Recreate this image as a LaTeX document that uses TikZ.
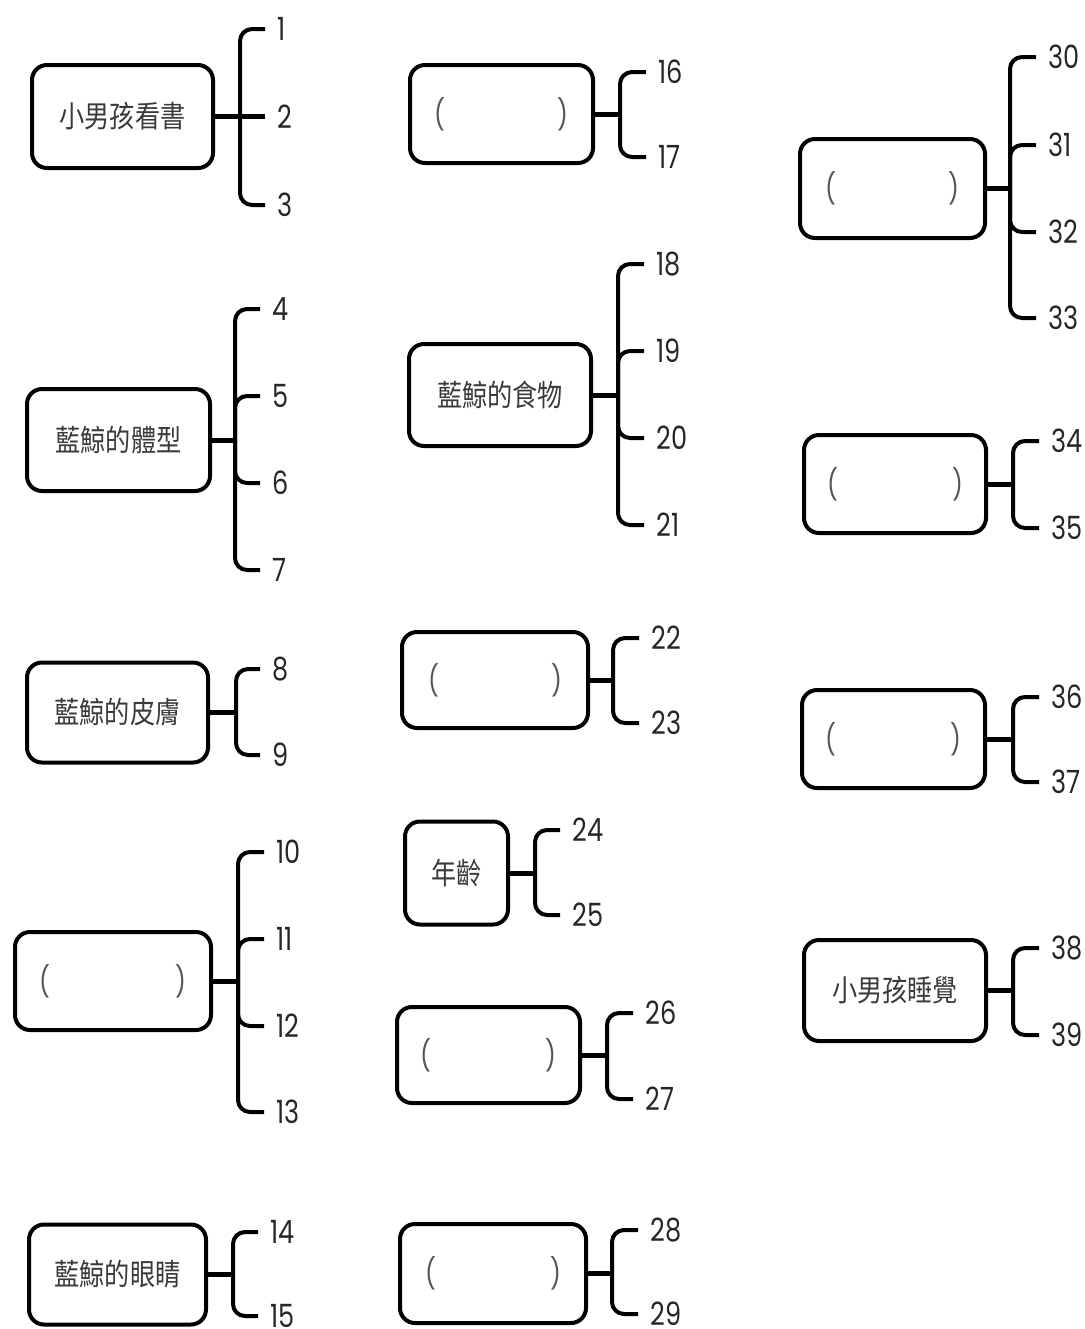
\documentclass[tikz,border=0pt]{standalone}
\usepackage{fontspec}
\usepackage{xcolor}
\newfontfamily\cjkfont{Noto Sans CJK TC}[FakeStretch=0.84]
\newfontfamily\numfont{Poppins}[FakeStretch=0.8]
\definecolor{inkgray}{HTML}{3A3A3A}
\definecolor{numgray}{HTML}{262626}
\definecolor{pargray}{HTML}{555555}

\begin{document}
\begin{tikzpicture}[x=0.5pt,y=-0.5pt,
  box/.style={draw, line width=2pt, rounded corners=7.5pt, inner sep=0pt,
    minimum width=#1, minimum height=50pt, text=inkgray,
    font=\cjkfont\fontsize{15pt}{15pt}\selectfont},
  box/.default=91pt,
  blank/.style={box=#1, font=\numfont\fontsize{15pt}{15pt}\selectfont, text=pargray},
  blank/.default=91pt,
  num/.style={anchor=west, inner xsep=6pt, inner ysep=0pt, text=numgray,
    font=\numfont\fontsize{16pt}{16pt}\selectfont},
  link/.style={line width=2.5pt},
  brace/.style={line width=2pt, rounded corners=6pt}]
\useasboundingbox (0,0) rectangle (1084,1329);
% left column
\node[box=90.5pt, minimum height=51.5pt] (read) at (122.5,116.5) {小男孩看書};
\coordinate (sread) at (240,116.5);
\node[num] (n1) at (265,29) {1};
\node[num] (n2) at (265,116.5) {2};
\node[num] (n3) at (265,205) {3};
\draw[link] (read) -- (n2.west);
\draw[brace] (n1.west) -| (sread) |- (n3.west);

\node[box=91.5pt, minimum height=51pt] (size) at (118.5,440) {藍鯨的體型};
\coordinate (ssize) at (235,440);
\node[num] (n4) at (260,309) {4};
\node[num] (n5) at (260,396) {5};
\node[num] (n6) at (260,483) {6};
\node[num] (n7) at (260,570) {7};
\draw[link] (size) -- (ssize);
\draw[brace] (n4.west) -| (ssize) |- (n7.west);
\draw[brace] (n5.west) -| (ssize);
\draw[brace] (n6.west) -| (ssize);

\node[box=90.5pt] (skin) at (117.5,712.5) {藍鯨的皮膚};
\coordinate (sskin) at (236,712.5);
\node[num] (n8) at (260,669) {8};
\node[num] (n9) at (260,755) {9};
\draw[link] (skin) -- (sskin);
\draw[brace] (n8.west) -| (sskin) |- (n9.west);

\node[blank=98pt, minimum height=49pt] (qfour) at (113,981) {(\hspace{63pt})};
\coordinate (sqfour) at (238,981);
\node[num] (n10) at (264,852) {10};
\node[num] (n11) at (264,939) {11};
\node[num] (n12) at (264,1026) {12};
\node[num] (n13) at (264,1112) {13};
\draw[link] (qfour) -- (sqfour);
\draw[brace] (n10.west) -| (sqfour) |- (n13.west);
\draw[brace] (n11.west) -| (sqfour);
\draw[brace] (n12.west) -| (sqfour);

\node[box=88.5pt] (eyes) at (117.5,1274.5) {藍鯨的眼睛};
\coordinate (seyes) at (233,1274.5);
\node[num] (n14) at (258,1232) {14};
\node[num] (n15) at (258,1316) {15};
\draw[link] (eyes) -- (seyes);
\draw[brace] (n14.west) -| (seyes) |- (n15.west);

% middle column
\node[blank=91.5pt, minimum height=49pt] (qone) at (501.5,114) {(\hspace{56pt})};
\coordinate (sqone) at (620,114);
\node[num] (n16) at (646,72) {16};
\node[num] (n17) at (646,157) {17};
\draw[link] (qone) -- (sqone);
\draw[brace] (n16.west) -| (sqone) |- (n17.west);

\node[box=91pt, minimum height=51pt] (food) at (500,395) {藍鯨的食物};
\coordinate (sfood) at (618,395);
\node[num] (n18) at (644,264) {18};
\node[num] (n19) at (644,351) {19};
\node[num] (n20) at (644,438) {20};
\node[num] (n21) at (644,525) {21};
\draw[link] (food) -- (sfood);
\draw[brace] (n18.west) -| (sfood) |- (n21.west);
\draw[brace] (n19.west) -| (sfood);
\draw[brace] (n20.west) -| (sfood);

\node[blank=93pt, minimum height=48pt] (qtwo) at (495,680) {(\hspace{56pt})};
\coordinate (sqtwo) at (613,680);
\node[num] (n22) at (639,638) {22};
\node[num] (n23) at (639,723) {23};
\draw[link] (qtwo) -- (sqtwo);
\draw[brace] (n22.west) -| (sqtwo) |- (n23.west);

\node[box=51.5pt, minimum height=51.5pt] (age) at (456.5,873) {年齡};
\coordinate (sage) at (535,873);
\node[num] (n24) at (560,830) {24};
\node[num] (n25) at (560,915) {25};
\draw[link] (age) -- (sage);
\draw[brace] (n24.west) -| (sage) |- (n25.west);

\node[blank=91.5pt, minimum height=48pt] (qthree) at (488.5,1055) {(\hspace{57pt})};
\coordinate (sqthree) at (607,1055);
\node[num] (n26) at (633,1013) {26};
\node[num] (n27) at (633,1099) {27};
\draw[link] (qthree) -- (sqthree);
\draw[brace] (n26.west) -| (sqthree) |- (n27.west);

\node[blank=93pt, minimum height=49.5pt] (qfive) at (493,1273.5) {(\hspace{57pt})};
\coordinate (sqfive) at (612,1273.5);
\node[num] (n28) at (638,1230) {28};
\node[num] (n29) at (638,1314) {29};
\draw[link] (qfive) -- (sqfive);
\draw[brace] (n28.west) -| (sqfive) |- (n29.west);

% right column
\node[blank=92.5pt, minimum height=49.5pt] (qsix) at (892.5,188.5) {(\hspace{56pt})};
\coordinate (sqsix) at (1010,188.5);
\node[num] (n30) at (1036,57) {30};
\node[num] (n31) at (1036,145) {31};
\node[num] (n32) at (1036,232) {32};
\node[num] (n33) at (1036,318) {33};
\draw[link] (qsix) -- (sqsix);
\draw[brace] (n30.west) -| (sqsix) |- (n33.west);
\draw[brace] (n31.west) -| (sqsix);
\draw[brace] (n32.west) -| (sqsix);

\node[blank=91pt, minimum height=49pt] (qseven) at (895,484) {(\hspace{57pt})};
\coordinate (sqseven) at (1013,484);
\node[num] (n34) at (1039,441) {34};
\node[num] (n35) at (1039,528) {35};
\draw[link] (qseven) -- (sqseven);
\draw[brace] (n34.west) -| (sqseven) |- (n35.west);

\node[blank=91.5pt, minimum height=49pt] (qeight) at (893.5,739) {(\hspace{57pt})};
\coordinate (sqeight) at (1013,739);
\node[num] (n36) at (1039,697) {36};
\node[num] (n37) at (1039,782) {37};
\draw[link] (qeight) -- (sqeight);
\draw[brace] (n36.west) -| (sqeight) |- (n37.west);

\node[box=91pt, minimum height=50.5pt] (sleep) at (895,990.5) {小男孩睡覺};
\coordinate (ssleep) at (1013,990.5);
\node[num] (n38) at (1039,948) {38};
\node[num] (n39) at (1039,1035) {39};
\draw[link] (sleep) -- (ssleep);
\draw[brace] (n38.west) -| (ssleep) |- (n39.west);
\end{tikzpicture}
\end{document}
